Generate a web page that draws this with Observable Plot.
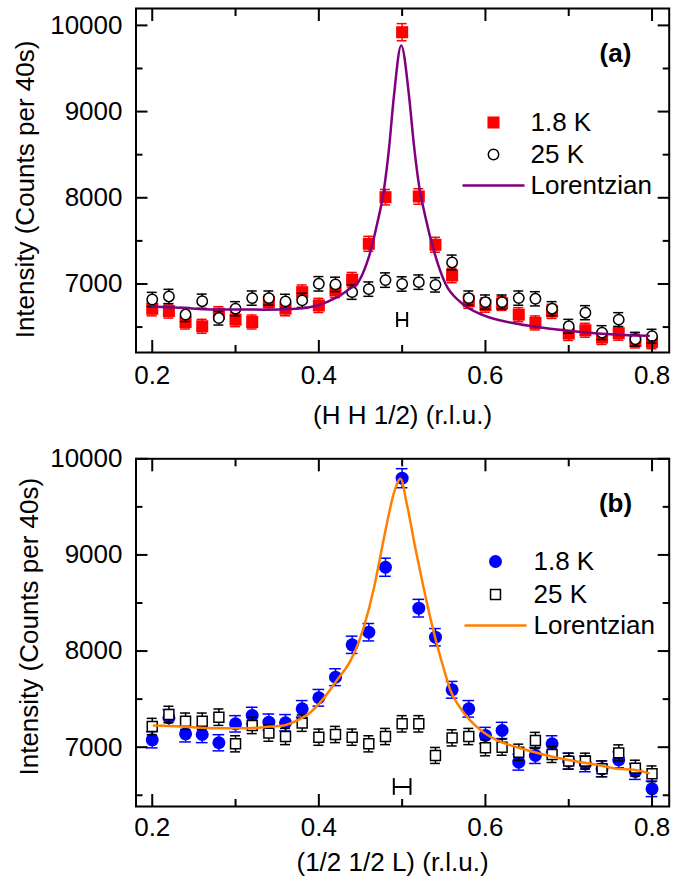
<!DOCTYPE html>
<html><head><meta charset="utf-8">
<script src="https://cdn.jsdelivr.net/npm/d3@7"></script>
<script src="https://cdn.jsdelivr.net/npm/@observablehq/plot@0.6"></script>
<style>
body{margin:0;background:#fff;}
#chart{width:683px;height:879px;}
#chart svg{display:block;}
</style></head><body><div id="chart"></div>
<script>
// ---------- data ----------
const hValues = [0.20,0.22,0.24,0.26,0.28,0.30,0.32,0.34,0.36,0.38,0.40,0.42,0.44,0.46,0.48,0.50,0.52,0.54,0.56,0.58,0.60,0.62,0.64,0.66,0.68,0.70,0.72,0.74,0.76,0.78,0.80];

// panel (a): (H H 1/2)
const lowTA = [6712,6686,6559,6509,6655,6586,6559,6790,6713,6905,6751,6924,7050,7466,8007,9921,8015,7455,7099,6800,6755,6775,6644,6548,6682,6425,6463,6378,6428,6338,6328];
const highTA = [6820,6855,6645,6800,6605,6713,6836,6836,6798,6810,7002,6995,6905,6940,7045,7000,7021,6990,7250,6836,6790,6790,6836,6828,6713,6509,6667,6436,6586,6359,6394];
const fitAx = [0.200,0.234,0.274,0.334,0.374,0.398,0.422,0.438,0.446,0.454,0.460,0.470,0.478,0.484,0.490,0.4989,0.508,0.514,0.520,0.528,0.538,0.552,0.570,0.598,0.638,0.678,0.718,0.778,0.796];
const fitAy = [6739,6724,6705,6702,6712,6751,6847,6950,7002,7150,7311,7698,8085,8549,9167,9767,9206,8626,8162,7775,7389,7002,6789,6635,6538,6480,6441,6403,6398];

// panel (b): (1/2 1/2 L)
const lowTB = [7077,7306,7139,7132,7046,7243,7330,7260,7254,7399,7514,7728,8065,8196,8872,9798,8446,8144,7597,7399,7122,7174,6844,6914,7035,6855,6827,6775,6869,6747,6567];
const highTB = [7215,7340,7270,7270,7312,7035,7226,7146,7111,7250,7104,7132,7104,7035,7111,7243,7243,6914,7097,7111,6994,7000,6948,7070,6924,6855,6855,6775,6941,6782,6723];
const fitBx = [0.202,0.234,0.274,0.314,0.342,0.358,0.374,0.390,0.406,0.422,0.438,0.454,0.466,0.474,0.482,0.490,0.498,0.506,0.516,0.526,0.538,0.550,0.558,0.572,0.590,0.614,0.638,0.666,0.698,0.738,0.758,0.778,0.796];
const fitBy = [7226,7215,7198,7198,7215,7226,7278,7364,7510,7700,7900,8250,8650,8994,9341,9640,9792,9514,9064,8648,8196,7816,7590,7382,7208,7070,7000,6931,6869,6810,6775,6765,6730];

// instrument resolution bars (centre, half-width, height)
const resA = [{x:0.5, half:0.006, y:6582, cap:87}];
const resB = [{x:0.5, half:0.010, y:6586, cap:87}];

// ticks
const xTickLabels = [0.2,0.4,0.6,0.8];
const xMinorTicks = [0.3,0.5,0.7];
const yTickLabels = [7000,8000,9000,10000];
const yMinorTicks = [6500,7500,8500,9500];

const legendLabels = ["1.8 K","25 K","Lorentzian"];
const FONT = "'Liberation Sans', Arial, Helvetica, sans-serif";

function rows(xs, ys){ return xs.map((x,i)=>({x, v: ys[i], e: Math.sqrt(ys[i])})); }
function lineSym(half){ return {draw(ctx){ ctx.moveTo(-half,0); ctx.lineTo(half,0); }}; }

function panel(cfg){
  const low = rows(hValues, cfg.low);
  const high = rows(hValues, cfg.high);
  const fit = cfg.fitx.map((x,i)=>({x, v: cfg.fity[i]}));
  const res = cfg.res;
  const L = 135.5, T = cfg.marginTop;
  const axes = [
    Plot.axisX(xTickLabels, {anchor:"bottom", tickSize:0, tickPadding:cfg.xPad, tickFormat:d=>d.toFixed(1), label:null}),
    Plot.axisX(xTickLabels, {anchor:"bottom", tickSize:-12, tickFormat:()=>"", label:null, strokeWidth:2}),
    Plot.axisX(xMinorTicks, {anchor:"bottom", tickSize:-7, tickFormat:()=>"", label:null, strokeWidth:2}),
    Plot.axisX(xTickLabels, {anchor:"top", tickSize:-12, tickFormat:()=>"", label:null, strokeWidth:2}),
    Plot.axisX(xMinorTicks, {anchor:"top", tickSize:-7, tickFormat:()=>"", label:null, strokeWidth:2}),
    Plot.axisY(yTickLabels, {anchor:"left", tickSize:0, tickPadding:13.5, tickFormat:d=>String(d), label:null}),
    Plot.axisY(yTickLabels, {anchor:"left", tickSize:-12, tickFormat:()=>"", label:null, strokeWidth:2}),
    Plot.axisY(yMinorTicks, {anchor:"left", tickSize:-7, tickFormat:()=>"", label:null, strokeWidth:2}),
    Plot.axisY(yTickLabels, {anchor:"right", tickSize:-12, tickFormat:()=>"", label:null, strokeWidth:2}),
    Plot.axisY(yMinorTicks, {anchor:"right", tickSize:-7, tickFormat:()=>"", label:null, strokeWidth:2})
  ];
  const marks = [
    // resolution bar
    Plot.ruleY(res, {y:"y", x1:d=>d.x-d.half, x2:d=>d.x+d.half, stroke:"black", strokeWidth:2}),
    Plot.ruleX(res, {x:d=>d.x-d.half, y1:d=>d.y-d.cap, y2:d=>d.y+d.cap, stroke:"black", strokeWidth:2}),
    Plot.ruleX(res, {x:d=>d.x+d.half, y1:d=>d.y-d.cap, y2:d=>d.y+d.cap, stroke:"black", strokeWidth:2}),
    // 1.8 K
    Plot.ruleX(low, {x:"x", y1:d=>d.v-d.e, y2:d=>d.v+d.e, stroke:cfg.lowColor, strokeWidth:1.5}),
    Plot.ruleY(low, {y:d=>d.v+d.e, x1:d=>d.x-cfg.capLow, x2:d=>d.x+cfg.capLow, stroke:cfg.lowColor, strokeWidth:1.5}),
    Plot.ruleY(low, {y:d=>d.v-d.e, x1:d=>d.x-cfg.capLow, x2:d=>d.x+cfg.capLow, stroke:cfg.lowColor, strokeWidth:1.5}),
    Plot.dot(low, {x:"x", y:"v", symbol:cfg.lowSymbol, r:cfg.lowR, fill:cfg.lowColor, stroke:"none"}),
    // 25 K
    Plot.ruleX(high, {x:"x", y1:d=>d.v-d.e, y2:d=>d.v+d.e, stroke:"black", strokeWidth:1.5}),
    Plot.ruleY(high, {y:d=>d.v+d.e, x1:d=>d.x-0.006, x2:d=>d.x+0.006, stroke:"black", strokeWidth:1.5}),
    Plot.ruleY(high, {y:d=>d.v-d.e, x1:d=>d.x-0.006, x2:d=>d.x+0.006, stroke:"black", strokeWidth:1.5}),
    Plot.dot(high, {x:"x", y:"v", symbol:cfg.highSymbol, r:cfg.highR, fill:"white", stroke:"black", strokeWidth:1.5}),
    // fit
    Plot.line(fit, {x:"x", y:"v", stroke:cfg.fitColor, strokeWidth:2.5, curve:"monotone-x"}),
    // legend
    Plot.dot([0], {frameAnchor:"top-left", dx:cfg.legX-L, dy:cfg.legY[0]-T, symbol:cfg.lowSymbol, r:cfg.lowR, fill:cfg.lowColor}),
    Plot.dot([0], {frameAnchor:"top-left", dx:cfg.legX-L, dy:cfg.legY[1]-T, symbol:cfg.highSymbol, r:cfg.highR, fill:"white", stroke:"black", strokeWidth:1.5}),
    Plot.dot([0], {frameAnchor:"top-left", dx:cfg.legX-L, dy:cfg.legY[2]-T, symbol:lineSym(31), r:5, fill:"none", stroke:cfg.fitColor, strokeWidth:2.5}),
    ...legendLabels.map((t,i)=>Plot.text([t], {frameAnchor:"top-left", dx:cfg.legTextX-L, dy:cfg.legY[i]-T, textAnchor:"start", lineAnchor:"middle", fontSize:26})),
    // frame
    Plot.frame({stroke:"black", strokeWidth:2})
  ];
  const texts = [
    Plot.text([cfg.tag], {frameAnchor:"top-left", dx:cfg.tagX-L, dy:cfg.tagY-T, textAnchor:"middle", lineAnchor:"middle", fontWeight:"bold", fontSize:26}),
    Plot.text([cfg.ylabel], {frameAnchor:"left", dx:cfg.ylabX-L, dy:cfg.ylabDy, rotate:-90, textAnchor:"middle", lineAnchor:"middle", fontSize:26}),
    Plot.text([cfg.xlabel], {frameAnchor:"bottom", dx:cfg.xlabDx, dy:cfg.xlabDy, textAnchor:"middle", lineAnchor:"middle", fontSize:26})
  ];
  return Plot.plot({
    width:683, height:cfg.height,
    marginLeft:L, marginRight:14.3, marginTop:cfg.marginTop, marginBottom:cfg.marginBottom,
    style:{fontFamily:FONT, fontSize:"26px", color:"black", background:"white", overflow:"visible"},
    x:{domain:[0.1805,0.8206]},
    y:{domain:cfg.ydomain},
    marks:[...marks, ...axes, ...texts]
  });
}

const chart = document.getElementById("chart");
chart.append(panel({
  height:440, marginTop:8, marginBottom:88, ydomain:[6205,10196],
  low:lowTA, high:highTA, fitx:fitAx, fity:fitAy, res:resA,
  lowColor:"#ff0000", lowSymbol:"square", lowR:6.8, capLow:0.006,
  highSymbol:"circle", highR:5.2, fitColor:"#800080",
  legX:493, legTextX:530, legY:[122,154,185],
  tag:"(a)", tagX:615, tagY:53,
  ylabel:"Intensity (Counts per 40s)", ylabX:25, ylabDy:9,
  xlabel:"(H H 1/2) (r.l.u.)", xlabDx:0, xlabDy:63, xPad:13.5
}));
chart.append(panel({
  height:439, marginTop:18.3, marginBottom:73, ydomain:[6383,10000],
  low:lowTB, high:highTB, fitx:fitBx, fity:fitBy, res:resB,
  lowColor:"#0000ff", lowSymbol:"circle", lowR:6.5, capLow:0.007,
  highSymbol:"square", highR:5.6, fitColor:"#ff7f00",
  legX:495, legTextX:533, legY:[121,154,185],
  tag:"(b)", tagX:615, tagY:63,
  ylabel:"Intensity (Counts per 40s)", ylabX:29, ylabDy:-6,
  xlabel:"(1/2 1/2 L) (r.l.u.)", xlabDx:-10, xlabDy:56, xPad:11.5
}));
</script></body></html>
